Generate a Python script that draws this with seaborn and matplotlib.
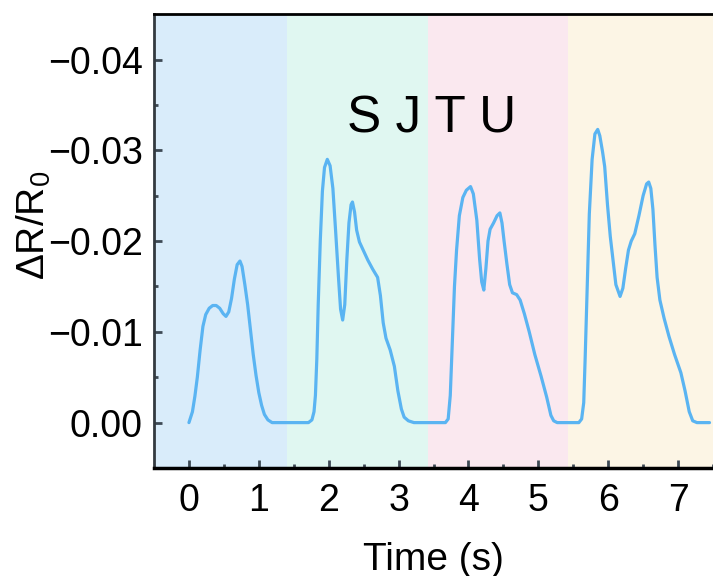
import matplotlib
matplotlib.use("Agg")
import matplotlib.pyplot as plt
import seaborn as sns
import pandas as pd

# valores (tiempo en s, dR/R0), letra por letra
time_s = [
    # S
    0.00, 0.05, 0.085, 0.12, 0.16, 0.20, 0.24, 0.29, 0.34, 0.39, 0.44, 0.49, 0.53, 0.57,
    0.61, 0.65, 0.69, 0.73, 0.76, 0.80, 0.84, 0.88, 0.92, 0.96, 1.00, 1.04, 1.08, 1.13,
    1.19,
    # J
    1.71, 1.76, 1.79, 1.81, 1.83, 1.85, 1.88, 1.91, 1.94, 1.98, 2.02, 2.06, 2.10, 2.14,
    2.17, 2.20, 2.23, 2.26, 2.29, 2.32, 2.34, 2.37, 2.40, 2.44, 2.50, 2.56, 2.63, 2.70,
    2.74, 2.78, 2.82, 2.88, 2.94, 2.99, 3.04, 3.08, 3.14, 3.22,
    # T
    3.67, 3.71, 3.74, 3.77, 3.80, 3.83, 3.87, 3.92, 3.97, 4.03, 4.07, 4.12, 4.16, 4.19,
    4.22, 4.25, 4.28, 4.31, 4.36, 4.41, 4.45, 4.48, 4.51, 4.55, 4.59, 4.63, 4.69, 4.74,
    4.80, 4.87, 4.95, 5.04, 5.12, 5.18, 5.22, 5.27,
    # U
    5.58, 5.62, 5.65, 5.67, 5.70, 5.73, 5.77, 5.81, 5.85, 5.88, 5.92, 5.95, 5.99, 6.03,
    6.07, 6.11, 6.17, 6.21, 6.25, 6.29, 6.33, 6.38, 6.44, 6.50, 6.55, 6.58, 6.61, 6.64,
    6.67, 6.70, 6.74, 6.80, 6.87, 6.95, 7.04, 7.10, 7.16, 7.21, 7.27, 7.45]
delta_r = [
    # S
    0.0000, -0.0012, -0.0029, -0.0050, -0.0080, -0.0106, -0.0119, -0.0126, -0.0129,
    -0.0129, -0.0126, -0.0120, -0.0117, -0.0122, -0.0137, -0.0158, -0.0174, -0.0178,
    -0.0172, -0.0152, -0.0130, -0.0102, -0.0075, -0.0052, -0.0033, -0.0019, -0.0009,
    -0.0003, 0.0000,
    # J
    0.0000, -0.0003, -0.0012, -0.0030, -0.0070, -0.0130, -0.0201, -0.0255, -0.0281,
    -0.0290, -0.0283, -0.0258, -0.0210, -0.0160, -0.0125, -0.0113, -0.0130, -0.0180,
    -0.0220, -0.0240, -0.0243, -0.0232, -0.0212, -0.0199, -0.0189, -0.0179, -0.0169,
    -0.0160, -0.0140, -0.0110, -0.0093, -0.0080, -0.0062, -0.0035, -0.0015, -0.0006,
    -0.0002, 0.0000,
    # T
    0.0000, -0.0004, -0.0030, -0.0090, -0.0150, -0.0190, -0.0228, -0.0248, -0.0256,
    -0.0260, -0.0252, -0.0223, -0.0180, -0.0155, -0.0146, -0.0170, -0.0200, -0.0213,
    -0.0220, -0.0228, -0.0231, -0.0220, -0.0200, -0.0175, -0.0152, -0.0143, -0.0141,
    -0.0135, -0.0120, -0.0100, -0.0075, -0.0051, -0.0028, -0.0008, -0.0002, 0.0000,
    # U
    0.0000, -0.0004, -0.0022, -0.0070, -0.0150, -0.0230, -0.0290, -0.0318, -0.0323,
    -0.0316, -0.0298, -0.0282, -0.0240, -0.0205, -0.0179, -0.0152, -0.0139, -0.0148,
    -0.0170, -0.0190, -0.0200, -0.0208, -0.0228, -0.0250, -0.0263, -0.0265, -0.0258,
    -0.0235, -0.0195, -0.0160, -0.0135, -0.0115, -0.0095, -0.0075, -0.0055, -0.0035,
    -0.0012, -0.0002, 0.0000, 0.0000]

# zonas de color (una por letra)
span_edges = [-0.5, 1.41, 3.42, 5.42, 7.5]
span_colors = ['#d9ecfa', '#e0f7f1', '#fae8ef', '#fcf5e5']

x_ticks = [0, 1, 2, 3, 4, 5, 6, 7]
y_ticks = [0.00, -0.01, -0.02, -0.03, -0.04]
y_labels = ['0.00', '\u22120.01', '\u22120.02', '\u22120.03', '\u22120.04']

df = pd.DataFrame({'Time (s)': time_s, 'dR': delta_r})

sns.set_style('ticks')
plt.rcParams['font.family'] = ['Liberation Sans', 'DejaVu Sans']
plt.rcParams['text.color'] = 'black'
plt.rcParams['axes.labelcolor'] = 'black'
plt.rcParams['xtick.labelcolor'] = 'black'
plt.rcParams['ytick.labelcolor'] = 'black'

fig = plt.figure(figsize=(7.13, 5.76), dpi=100)
ax = fig.add_axes([0.216, 0.1875, 0.784, 0.788])

for i, c in enumerate(span_colors):
    ax.axvspan(span_edges[i], span_edges[i + 1], color=c, lw=0, zorder=0)

sns.lineplot(data=df, x='Time (s)', y='dR', color='#5ab4f2', lw=2.3, ax=ax, zorder=3)

ax.set_xlim(-0.5, 7.41)
ax.set_ylim(0.005, -0.045)

ax.set_xticks(x_ticks)
ax.set_xticklabels([str(t) for t in x_ticks])
ax.set_xticks([t + 0.5 for t in x_ticks], minor=True)
ax.set_yticks(y_ticks)
ax.set_yticklabels(y_labels)
ax.set_yticks([-0.005, -0.015, -0.025, -0.035], minor=True)

ax.tick_params(axis='both', which='major', direction='in', length=6, width=2,
               color='#3e4a55', labelsize=27)
ax.tick_params(axis='both', which='minor', direction='in', length=3, width=2,
               color='#3e4a55')
ax.tick_params(axis='x', pad=11)
ax.tick_params(axis='y', pad=8)

ax.set_xlabel('Time (s)', fontsize=28, labelpad=16)
ax.set_ylabel(r'$\mathregular{\Delta R/R_0}$', fontsize=28)
ax.yaxis.set_label_coords(-0.18, 0.535)

ax.text(3.48, -0.0334, 'S J T U', fontsize=37, ha='center', va='center', zorder=4)

ax.spines['right'].set_visible(False)
ax.spines['left'].set_color('#333a40')
ax.spines['left'].set_linewidth(2)
ax.spines['bottom'].set_linewidth(2.5)
ax.spines['bottom'].set_color('black')
ax.spines['top'].set_linewidth(2)
ax.spines['top'].set_color('black')

fig.savefig('out.png', dpi=100)
